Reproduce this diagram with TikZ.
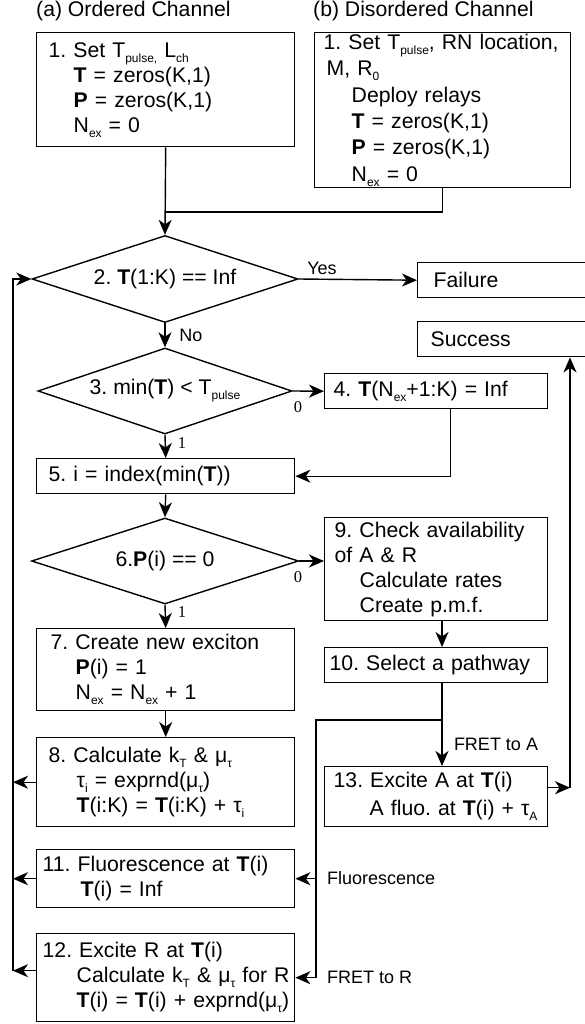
\documentclass[tikz,border=0pt]{standalone}
\usepackage{fontspec}
\setmainfont{Liberation Sans}
\newfontfamily\numfont{Liberation Serif}
\usetikzlibrary{shapes.geometric, arrows.meta, positioning, calc}

\newcommand{\lowsub}[1]{\raisebox{-5pt}{\fontsize{12}{12}\selectfont #1}}
\newcommand{\boxline}[2]{\hspace*{#1pt}\mbox{#2}}
\frenchspacing

\begin{document}
\begin{tikzpicture}[x=1pt, y=1pt, font=\fontsize{21.2}{25}\selectfont,
  stepbox/.style={draw, line width=1.4pt, rectangle, anchor=north west, align=left,
    inner xsep=0pt, inner ysep=0pt, text width=#1},
  decide/.style={draw, line width=1.4pt, diamond, aspect=3, inner sep=0pt},
  arr/.style={line width=1.4pt, -{Stealth[length=15pt, width=13pt, inset=4.5pt]}},
  link/.style={line width=1.4pt},
  lbl/.style={font=\fontsize{18}{20}\selectfont, inner sep=0pt},
  bit/.style={font=\numfont\fontsize{16.5}{18}\selectfont, inner sep=0pt}]
  \useasboundingbox (0,0) rectangle (584,-1024);

  % Titles
  \node[anchor=west, inner sep=0pt] (tta) at (36,-11) {(a) Ordered Channel};
  \node[anchor=west, inner sep=0pt] (ttb) at (313,-11) {(b) Disordered Channel};

  % Step 1 for both channels
  \node[stepbox=258pt, minimum height=114pt] (s1a) at (36,-32) {%
    \boxline{12}{1. Set T\lowsub{pulse,} L\lowsub{ch}}\\
    \boxline{37}{\textbf{T} = zeros(K,1)}\\
    \boxline{37}{\textbf{P} = zeros(K,1)}\\
    \boxline{37}{N\lowsub{ex} = 0}};
  \node[stepbox=256pt, minimum height=155pt, font=\fontsize{21.2}{26.4}\selectfont] (s1b) at (314,-32) {%
    \boxline{9}{1. Set T\lowsub{pulse}, RN location,}\\
    \boxline{12}{M, R\lowsub{0}}\\
    \boxline{37}{Deploy relays}\\
    \boxline{37}{\textbf{T} = zeros(K,1)}\\
    \boxline{37}{\textbf{P} = zeros(K,1)}\\
    \boxline{37}{N\lowsub{ex} = 0}};

  % Decisions
  \node[decide, minimum width=266pt, minimum height=87pt] (d2) at (165,-279) {2. \textbf{T}(1:K) == Inf};
  \node[decide, minimum width=254pt, minimum height=86pt] (d3) at (165,-391) {3. min(\textbf{T}) < T\lowsub{pulse}};
  \node[decide, minimum width=267pt, minimum height=86pt] (d6) at (165,-561) {6.\textbf{P}(i) == 0};

  % End states
  \node[stepbox=190pt, minimum height=35pt] (fail) at (417,-262) {\boxline{16}{Failure}};
  \node[stepbox=190pt, minimum height=35pt] (succ) at (417,-321) {\boxline{13}{Success}};

  % Steps
  \node[stepbox=223pt, minimum height=35pt] (s4) at (324,-373) {\boxline{9}{4. \textbf{T}(N\lowsub{ex}+1:K) = Inf}};
  \node[stepbox=258pt, minimum height=35pt] (s5) at (36,-458) {\boxline{12}{5. i = index(min(\textbf{T}))}};
  \node[stepbox=223pt, minimum height=103pt] (s9) at (324,-517) {%
    \boxline{10}{9. Check availability}\\
    \boxline{10}{of A \& R}\\
    \boxline{35}{Calculate rates}\\
    \boxline{35}{Create p.m.f.}};
  \node[stepbox=258pt, minimum height=82pt] (s7) at (36,-628) {%
    \boxline{14}{7. Create new exciton}\\
    \boxline{39}{\textbf{P}(i) = 1}\\
    \boxline{39}{N\lowsub{ex} = N\lowsub{ex} + 1}};
  \node[stepbox=223pt, minimum height=35pt] (s10) at (324,-647) {\boxline{5}{10. Select a pathway}};
  \node[stepbox=258pt, minimum height=89pt] (s8) at (36,-737) {%
    \boxline{12}{8. Calculate k\lowsub{T} \& μ\lowsub{τ}}\\
    \boxline{40}{τ\lowsub{i} = exprnd(μ\lowsub{τ})}\\
    \boxline{40}{\textbf{T}(i:K) = \textbf{T}(i:K) + τ\lowsub{i}}};
  \node[stepbox=223pt, minimum height=60pt, font=\fontsize{21.2}{28}\selectfont] (s13) at (324,-766) {%
    \boxline{9}{13. Excite A at \textbf{T}(i)}\\
    \boxline{45}{A fluo. at \textbf{T}(i) + τ\lowsub{A}}};
  \node[stepbox=258pt, minimum height=58pt] (s11) at (36,-849) {%
    \boxline{6}{11. Fluorescence at \textbf{T}(i)}\\
    \boxline{44}{\textbf{T}(i) = Inf}};
  \node[stepbox=258pt, minimum height=88pt] (s12) at (36,-933) {%
    \boxline{6}{12. Excite R at \textbf{T}(i)}\\
    \boxline{40}{Calculate k\lowsub{T} \& μ\lowsub{τ} for R}\\
    \boxline{40}{\textbf{T}(i) = \textbf{T}(i) + exprnd(μ\lowsub{τ})}};

  % Helper points for the long runs
  \coordinate (join) at (165,-212);
  \coordinate (loop) at (13,0);
  \coordinate (rail) at (570,0);
  \coordinate (colb) at (442,0);
  \coordinate (fork) at (442,-720);
  \coordinate (bend) at (316,0);

  % Main column
  \draw[arr] (s1a.south) -- (d2.north);
  \draw[link] (s1b.south) |- (join);
  \draw[arr] (d2.east) -- (fail.west);
  \node[lbl] (yes) at (322,-268) {Yes};
  \draw[arr] (d2.south) -- (d3.north);
  \node[lbl] (no) at (191,-335) {No};
  \draw[arr] (d3.east) -- (s4.west);
  \node[bit] (z3) at (298,-407) {0};
  \draw[arr] (d3.south) -- (s5.north);
  \node[bit] (o3) at (182,-443) {1};
  \draw[arr] ([xshift=14pt]s4.south) |- (s5.east);
  \draw[arr] (s5.south) -- (d6.north);
  \draw[arr] (d6.east) -- (d6.east -| s9.west);
  \node[bit] (z6) at (298,-577) {0};
  \draw[arr] (d6.south) -- (s7.north);
  \node[bit] (o6) at (182,-612) {1};
  \draw[arr] (s7.south) -- (s8.north);

  % Pathway branch
  \draw[arr] (s9.south -| colb) -- (s10.north -| colb);
  \draw[arr] (s10.south -| colb) -- (s13.north -| colb);
  \node[lbl] (fa) at (496,-744) {FRET to A};
  \draw[arr] (fork) -| (bend |- s12.east) -- (s12.east);
  \draw[arr] (bend |- s11.east) -- (s11.east);
  \node[lbl, anchor=west] (fl) at (327,-878) {Fluorescence};
  \node[lbl, anchor=west] (fr) at (327,-977) {FRET to R};
  \draw[arr] ([yshift=9pt]s13.east) -- ([yshift=9pt]s13.east -| rail);
  \draw[arr] ([yshift=9pt]s13.east -| rail) -- (rail |- succ.south);

  % Return loop
  \draw[arr] (s8.west) -- (s8.west -| loop);
  \draw[arr] (s11.west) -- (s11.west -| loop);
  \draw[arr] ([yshift=7pt]s12.west) -- ([yshift=7pt]s12.west -| loop);
  \draw[arr] ([yshift=7pt]s12.west -| loop) |- (d2.west);
\end{tikzpicture}
\end{document}
